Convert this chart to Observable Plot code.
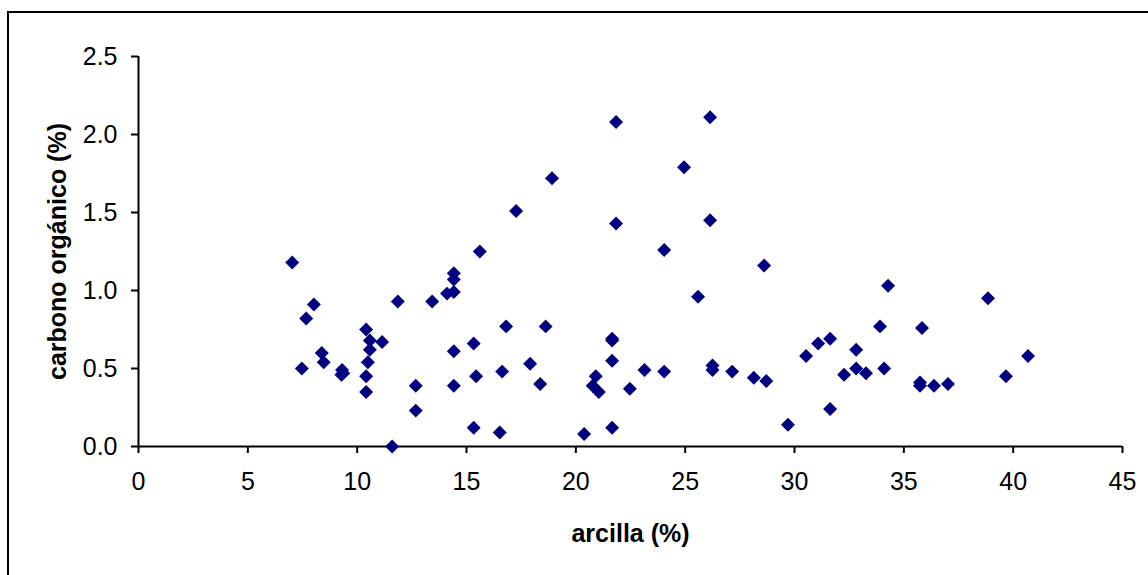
<!DOCTYPE html>
<html>
<head>
<meta charset="utf-8">
<script src="https://cdn.jsdelivr.net/npm/d3@7"></script>
<script src="https://cdn.jsdelivr.net/npm/@observablehq/plot@0.6"></script>
<style>
  html, body { margin: 0; padding: 0; background: #ffffff; }
  #wrap { position: relative; width: 1148px; height: 575px; overflow: hidden; background: #ffffff; }
  #frame { position: absolute; left: 7px; top: 11px; width: 1300px; height: 700px;
           border-top: 2px solid #000; border-left: 2px solid #000; box-sizing: border-box; pointer-events: none; }
  #wrap svg { position: absolute; left: 0; top: 0; }
</style>
</head>
<body>
<div id="wrap"><div id="frame"></div></div>
<script>
// Clay content (%) of each sample
const arcilla = [
  7.03, 8.02, 7.67, 7.47, 8.38, 8.47, 9.31, 9.36, 9.28, 10.41,
  10.58, 10.58, 11.14, 10.49, 10.41, 10.41, 11.60, 11.86, 12.68, 12.68,
  13.43, 14.11, 14.42, 14.42, 14.42, 14.42, 14.42, 15.61, 17.27, 18.91,
  16.81, 18.62, 15.33, 15.44, 16.63, 17.91, 18.37, 15.33, 16.52, 20.38,
  21.66, 21.66, 21.66, 21.66, 20.91, 20.77, 21.05, 21.84, 21.84, 26.14,
  24.95, 26.14, 24.04, 28.61, 25.59, 22.47, 23.14, 24.04, 26.25, 26.25,
  27.15, 28.14, 28.71, 29.70, 30.53, 31.08, 31.63, 31.63, 32.27, 32.82,
  32.82, 33.27, 33.91, 34.10, 34.28, 35.74, 35.74, 35.83, 36.38, 37.02,
  38.85, 39.67, 40.68
];
// Organic carbon (%) of each sample
const carbono = [
  1.18, 0.91, 0.82, 0.50, 0.60, 0.54, 0.49, 0.47, 0.46, 0.75,
  0.68, 0.62, 0.67, 0.54, 0.45, 0.35, 0.00, 0.93, 0.39, 0.23,
  0.93, 0.98, 1.11, 1.07, 0.99, 0.61, 0.39, 1.25, 1.51, 1.72,
  0.77, 0.77, 0.66, 0.45, 0.48, 0.53, 0.40, 0.12, 0.09, 0.08,
  0.12, 0.69, 0.68, 0.55, 0.45, 0.39, 0.35, 2.08, 1.43, 2.11,
  1.79, 1.45, 1.26, 1.16, 0.96, 0.37, 0.49, 0.48, 0.52, 0.49,
  0.48, 0.44, 0.42, 0.14, 0.58, 0.66, 0.69, 0.24, 0.46, 0.62,
  0.50, 0.47, 0.77, 0.50, 1.03, 0.41, 0.39, 0.76, 0.39, 0.40,
  0.95, 0.45, 0.58
];
const xTicks = [0, 5, 10, 15, 20, 25, 30, 35, 40, 45];
const yTicks = [0, 0.5, 1.0, 1.5, 2.0, 2.5];
const xTitle = "arcilla (%)";
const yTitle = "carbono orgánico (%)";

const samples = arcilla.map((a, i) => ({arcilla: a, carbono: carbono[i]}));

const font = "'Liberation Sans', Arial, Helvetica, sans-serif";

const chart = Plot.plot({
  width: 1148,
  height: 575,
  marginLeft: 138,
  marginRight: 26,
  marginTop: 56,
  marginBottom: 129,
  style: {fontFamily: font, color: "#000", background: "transparent", overflow: "visible"},
  x: {domain: [0, 45]},
  y: {domain: [0, 2.5]},
  marks: [
    Plot.axisX({ticks: xTicks, tickSize: 7, tickPadding: 19, fontSize: 25, strokeWidth: 2, label: null,
                tickFormat: d3.format("d")}),
    Plot.axisY({ticks: yTicks, tickSize: 7, tickPadding: 14, fontSize: 25, strokeWidth: 2, label: null,
                tickFormat: d3.format(".1f")}),
    Plot.ruleX([0], {stroke: "#000", strokeWidth: 2}),
    Plot.ruleY([0], {stroke: "#000", strokeWidth: 2}),
    // square diamonds, navy
    Plot.dot(samples, {x: "arcilla", y: "carbono", symbol: "diamond2", r: 6.3, fill: "#000080", stroke: "none"}),
    Plot.text([xTitle], {frameAnchor: "bottom", dy: 87, lineAnchor: "middle", textAnchor: "middle", text: d => d,
                         fontSize: 25, fontWeight: "bold", fill: "#000"}),
    Plot.text([yTitle], {frameAnchor: "left", dx: -81, rotate: -90, lineAnchor: "middle", textAnchor: "middle",
                         text: d => d, fontSize: 25, fontWeight: "bold", fill: "#000"})
  ]
});

document.getElementById("wrap").insertBefore(chart, document.getElementById("frame"));
</script>
</body>
</html>
